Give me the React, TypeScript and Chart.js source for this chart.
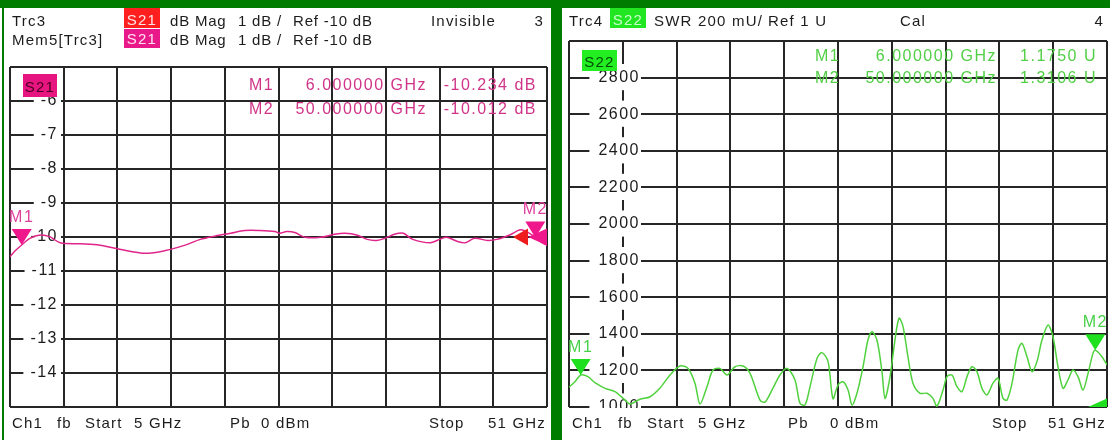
import React, { useEffect, useRef } from 'react';
import { Chart, registerables } from 'chart.js';

Chart.register(...registerables);

const FONT_FAMILY = '"Liberation Sans", Arial, Helvetica, sans-serif';

// ---------- shared frequency axis ----------
const X_START_GHZ = 5;
const X_STOP_GHZ = 51;
const X_GRID_LINES = 11;

// ---------- left diagram: Mem5[Trc3] S21, dB Mag ----------
const S21_FREQ_GHZ = [5.0, 5.4, 6.0, 6.7, 7.6, 8.4, 9.3, 11.0, 12.7, 14.4, 16.6, 18.3, 20.0, 21.3, 22.6, 23.9, 25.1, 26.4, 27.7, 28.1, 28.7, 29.4, 30.3, 31.6, 32.8, 33.7, 34.7, 35.6, 36.4, 37.1, 38.0, 38.7, 39.5, 41.0, 41.8, 42.4, 43.4, 44.0, 44.8, 45.9, 46.7, 47.8, 48.7, 49.3, 50.0, 50.5, 51.0];
const S21_DB = [-10.58, -10.42, -10.234, -10.04, -9.94, -9.99, -10.17, -10.2, -10.24, -10.36, -10.48, -10.4, -10.24, -10.07, -9.97, -9.89, -9.81, -9.81, -9.84, -9.89, -9.84, -9.87, -10.01, -10.01, -9.92, -9.89, -9.94, -10.07, -10.1, -10.04, -9.91, -9.89, -10.07, -10.17, -10.07, -10.01, -10.14, -10.17, -10.04, -10.1, -10.07, -9.94, -9.79, -9.85, -10.012, -10.15, -10.25];
const S21_Y_MIN = -15;
const S21_Y_MAX = -5;
const S21_Y_STEP = 1;
const S21_Y_TICK_LABELS = [-14, -13, -12, -11, -10, -9, -8, -7, -6];
const S21_REF_DB = -10;
const S21_MARKER_NAMES = ['M1', 'M2'];
const S21_MARKER_FREQ_GHZ = [6, 50];
const S21_MARKER_DB = [-10.234, -10.012];
const S21_MARKER_FREQ_TEXT = ['6.000000 GHz', '50.000000 GHz'];
const S21_MARKER_VALUE_TEXT = ['-10.234 dB', '-10.012 dB'];

// ---------- right diagram: Trc4 S22, SWR (mU) ----------
const S22_FREQ_GHZ = [5.0, 5.51, 6.0, 6.62, 7.22, 8.08, 8.93, 9.79, 10.22, 11.07, 11.93, 12.78, 13.64, 14.49, 15.18, 15.77, 16.2, 16.8, 17.31, 17.91, 18.51, 19.19, 19.88, 20.48, 21.33, 21.76, 22.36, 23.04, 23.64, 24.32, 24.75, 25.18, 25.61, 26.21, 26.63, 27.15, 27.57, 28.0, 28.43, 28.86, 29.2, 29.62, 30.14, 30.56, 30.91, 31.33, 31.76, 32.02, 32.45, 32.87, 33.22, 33.56, 33.98, 34.41, 35.01, 35.61, 36.12, 36.46, 36.98, 37.32, 37.75, 38.17, 38.6, 39.03, 39.46, 39.88, 40.31, 40.74, 41.25, 41.68, 42.11, 42.45, 42.88, 43.39, 43.73, 44.16, 44.59, 45.01, 45.44, 45.96, 46.38, 46.81, 47.24, 47.66, 48.09, 48.52, 48.95, 49.38, 49.8, 50.0, 50.57, 51.0];
const S22_SWR_MU = [1108, 1138, 1175, 1166, 1133, 1102, 1084, 1038, 1016, 1042, 1056, 1104, 1175, 1224, 1211, 1130, 1016, 1111, 1202, 1211, 1175, 1220, 1224, 1184, 1038, 1027, 1093, 1175, 1211, 1148, 1020, 1011, 1111, 1266, 1297, 1248, 1045, 1120, 1138, 1093, 1011, 1075, 1220, 1366, 1411, 1366, 1193, 1047, 1166, 1366, 1485, 1439, 1275, 1130, 1075, 1075, 1047, 1005, 1093, 1166, 1175, 1111, 1084, 1166, 1220, 1193, 1102, 1066, 1130, 1157, 1047, 1038, 1130, 1311, 1348, 1275, 1193, 1248, 1366, 1448, 1384, 1220, 1102, 1148, 1202, 1166, 1093, 1184, 1293, 1311, 1275, 1230];
const S22_Y_MIN = 1000;
const S22_Y_MAX = 3000;
const S22_Y_STEP = 200;
const S22_Y_TICK_LABELS = [1000, 1200, 1400, 1600, 1800, 2000, 2200, 2400, 2600, 2800];
const S22_REF_MU = 1000;
const S22_MARKER_NAMES = ['M1', 'M2'];
const S22_MARKER_FREQ_GHZ = [6, 50];
const S22_MARKER_MU = [1175, 1310.6];
const S22_MARKER_FREQ_TEXT = ['6.000000 GHz', '50.000000 GHz'];
const S22_MARKER_VALUE_TEXT = ['1.1750 U', '1.3106 U'];

// ---------- styles ----------
const FRAME_GREEN = '#007d00';
const GRID_COLOR = '#262626';
const TEXT_COLOR = '#1c1c1c';
const TICK_FONT_SIZE = 16;
const TICK_LS = '1.5px';

function drawText(
  c: CanvasRenderingContext2D,
  s: string,
  x: number,
  y: number,
  color: string,
  align: CanvasTextAlign = 'left',
  size = 15,
  ls = '1.2px'
) {
  c.save();
  c.font = `${size}px ${FONT_FAMILY}`;
  (c as any).letterSpacing = ls;
  c.fillStyle = color;
  c.textAlign = align;
  c.textBaseline = 'alphabetic';
  c.fillText(s, x, y);
  c.restore();
}

function box(c: CanvasRenderingContext2D, x: number, y: number, w: number, h: number, color: string) {
  c.fillStyle = color;
  c.fillRect(x, y, w, h);
}

function downTriangle(c: CanvasRenderingContext2D, x: number, y: number, w: number, h: number, color: string) {
  c.beginPath();
  c.moveTo(x, y);
  c.lineTo(x - w / 2, y - h);
  c.lineTo(x + w / 2, y - h);
  c.closePath();
  c.fillStyle = color;
  c.fill();
}

function leftTriangle(c: CanvasRenderingContext2D, tipX: number, y: number, w: number, h: number, color: string) {
  c.beginPath();
  c.moveTo(tipX, y);
  c.lineTo(tipX + w, y - h / 2);
  c.lineTo(tipX + w, y + h / 2);
  c.closePath();
  c.fillStyle = color;
  c.fill();
}

function widestLabel(labels: number[]) {
  const cv = document.createElement('canvas');
  const c = cv.getContext('2d') as CanvasRenderingContext2D;
  c.font = `${TICK_FONT_SIZE}px ${FONT_FAMILY}`;
  (c as any).letterSpacing = TICK_LS;
  return Math.max(...labels.map((v) => c.measureText(String(v)).width));
}

type Panel = {
  ox: number;
  oy: number;
  w: number;
  h: number;
  grid: { l: number; t: number; r: number; b: number };
  freq: number[];
  vals: number[];
  yMin: number;
  yMax: number;
  yStep: number;
  yTickLabels: number[];
  labelRight: number;
  backdropPad: { left: number; right: number; top: number; bottom: number };
  traceColor: string;
  markerColor: string;
  markerLabelColor: string;
  markerNames: string[];
  markerFreq: number[];
  markerVals: number[];
  refArrows: { value: number; color: string; offset: number; width: number }[];
  drawStatic: (c: CanvasRenderingContext2D) => void;
};

function makeChart(canvas: HTMLCanvasElement, p: Panel) {
  const panelPlugin = {
    id: 'panelDecor',
    beforeUpdate(chart: any) {
      chart.ctx.letterSpacing = TICK_LS;
    },
    beforeDraw(chart: any) {
      const c = chart.ctx as CanvasRenderingContext2D;
      c.save();
      c.fillStyle = '#ffffff';
      c.fillRect(0, 0, chart.width, chart.height);
      c.restore();
      (c as any).letterSpacing = TICK_LS;
    },
    afterDatasetsDraw(chart: any) {
      const c = chart.ctx as CanvasRenderingContext2D;
      const xs = chart.scales.x;
      const ys = chart.scales.y;
      const a = chart.chartArea;
      c.save();
      c.beginPath();
      c.rect(a.left, a.top, a.right - a.left, a.bottom - a.top);
      c.clip();
      p.refArrows.forEach((r) => {
        const y = ys.getPixelForValue(r.value);
        leftTriangle(c, a.right - r.offset, y, r.width, 17, r.color);
      });
      p.markerNames.forEach((n, i) => {
        const x = xs.getPixelForValue(p.markerFreq[i]);
        const y = ys.getPixelForValue(p.markerVals[i]);
        downTriangle(c, x, y, 20, 16, p.markerColor);
        drawText(c, n, x, y - 23, p.markerLabelColor, 'center', 16, '1.5px');
      });
      c.restore();
    },
    afterDraw(chart: any) {
      const c = chart.ctx as CanvasRenderingContext2D;
      c.save();
      c.translate(-p.ox, -p.oy);
      c.fillStyle = '#ffffff';
      c.fillRect(p.ox, p.grid.b + 1, p.w, p.oy + p.h - p.grid.b - 1);
      p.drawStatic(c);
      c.restore();
    },
  };

  const gridOpts = { color: GRID_COLOR, lineWidth: 2, drawTicks: false };
  const widest = widestLabel(p.yTickLabels);

  return new Chart(canvas, {
    type: 'line',
    data: {
      datasets: [
        {
          data: p.freq.map((f, i) => ({ x: f, y: p.vals[i] })),
          borderColor: p.traceColor,
          borderWidth: 1.5,
          pointRadius: 0,
          tension: 0.3,
          fill: false,
          xAxisID: 'x',
          yAxisID: 'y',
        },
      ],
    },
    options: {
      animation: false,
      responsive: false,
      devicePixelRatio: 1,
      events: [],
      layout: {
        padding: {
          left: p.grid.l - p.ox,
          top: p.grid.t - p.oy,
          right: p.ox + p.w - p.grid.r,
          bottom: p.oy + p.h - p.grid.b,
        },
      },
      plugins: {
        legend: { display: false },
        tooltip: { enabled: false },
        title: { display: false },
      },
      scales: {
        x: {
          type: 'linear',
          min: X_START_GHZ,
          max: X_STOP_GHZ,
          ticks: { display: false, count: X_GRID_LINES },
          grid: gridOpts,
          border: { display: false },
        },
        y: {
          type: 'linear',
          position: 'left',
          min: p.yMin,
          max: p.yMax,
          ticks: { display: false, stepSize: p.yStep },
          grid: gridOpts,
          border: { display: false },
        },
        yl: {
          type: 'linear',
          position: 'left',
          min: p.yMin,
          max: p.yMax,
          grid: { display: false, drawTicks: false },
          border: { display: false },
          afterBuildTicks: (s: any) => {
            s.ticks = p.yTickLabels.map((v) => ({ value: v }));
          },
          afterFit: (s: any) => {
            s.width = 0;
            s.paddingTop = 0;
            s.paddingBottom = 0;
          },
          ticks: {
            autoSkip: false,
            mirror: true,
            crossAlign: 'far',
            padding: p.labelRight - widest,
            color: TEXT_COLOR,
            font: { family: FONT_FAMILY, size: TICK_FONT_SIZE },
            showLabelBackdrop: true,
            backdropColor: '#ffffff',
            backdropPadding: p.backdropPad,
            callback: (v: any) => String(v),
          },
        },
      } as any,
    },
    plugins: [panelPlugin as any],
  });
}

function drawFooter(c: CanvasRenderingContext2D, items: [string, number, CanvasTextAlign][]) {
  items.forEach(([s, x, al]) => drawText(c, s, x, 428, TEXT_COLOR, al));
}

const LEFT_PANEL: Panel = {
  ox: 4,
  oy: 8,
  w: 547,
  h: 432,
  grid: { l: 10, t: 67, r: 547, b: 407 },
  freq: S21_FREQ_GHZ,
  vals: S21_DB,
  yMin: S21_Y_MIN,
  yMax: S21_Y_MAX,
  yStep: S21_Y_STEP,
  yTickLabels: S21_Y_TICK_LABELS,
  labelRight: 48,
  backdropPad: { left: 7, right: 3, top: 3, bottom: 2 },
  traceColor: '#e0258a',
  markerColor: '#f0168c',
  markerLabelColor: '#e0409c',
  markerNames: S21_MARKER_NAMES,
  markerFreq: S21_MARKER_FREQ_GHZ,
  markerVals: S21_MARKER_DB,
  refArrows: [
    { value: S21_REF_DB, color: '#f0168c', offset: 19, width: 19 },
    { value: S21_REF_DB, color: '#ee1c1c', offset: 34, width: 15 },
  ],
  drawStatic: (c) => {
    drawText(c, 'Trc3', 12, 26, TEXT_COLOR);
    box(c, 124, 8, 36, 20, '#ff1f1f');
    drawText(c, 'S21', 157, 25, '#ffe4e4', 'right');
    drawText(c, 'dB Mag', 170, 26, TEXT_COLOR, 'left', 15, '0.8px');
    drawText(c, '1 dB /', 238, 26, TEXT_COLOR, 'left', 15, '0.8px');
    drawText(c, 'Ref -10 dB', 293, 26, TEXT_COLOR, 'left', 15, '0.8px');
    drawText(c, 'Invisible', 431, 26, TEXT_COLOR);
    drawText(c, '3', 544, 26, TEXT_COLOR, 'right');
    drawText(c, 'Mem5[Trc3]', 12, 45, TEXT_COLOR);
    box(c, 124, 29, 36, 19, '#ea198a');
    drawText(c, 'S21', 157, 44, '#ffe0f0', 'right');
    drawText(c, 'dB Mag', 170, 45, TEXT_COLOR, 'left', 15, '0.8px');
    drawText(c, '1 dB /', 238, 45, TEXT_COLOR, 'left', 15, '0.8px');
    drawText(c, 'Ref -10 dB', 293, 45, TEXT_COLOR, 'left', 15, '0.8px');
    box(c, 23, 74, 34, 23, '#e6157f');
    drawText(c, 'S21', 40, 92, '#4a0022', 'center');
    const base = [90, 114];
    S21_MARKER_NAMES.forEach((n, i) => {
      drawText(c, n, 249, base[i], '#d03488', 'left', 16, '1.5px');
      drawText(c, S21_MARKER_FREQ_TEXT[i], 427, base[i], '#d03488', 'right', 16, '1.5px');
      drawText(c, S21_MARKER_VALUE_TEXT[i], 537, base[i], '#d03488', 'right', 16, '1.5px');
    });
    drawFooter(c, [
      ['Ch1', 12, 'left'],
      ['fb', 57, 'left'],
      ['Start', 85, 'left'],
      ['5 GHz', 134, 'left'],
      ['Pb', 230, 'left'],
      ['0 dBm', 261, 'left'],
      ['Stop', 429, 'left'],
      ['51 GHz', 546, 'right'],
    ]);
  },
};

const RIGHT_PANEL: Panel = {
  ox: 562,
  oy: 8,
  w: 548,
  h: 432,
  grid: { l: 569, t: 41, r: 1107, b: 407 },
  freq: S22_FREQ_GHZ,
  vals: S22_SWR_MU,
  yMin: S22_Y_MIN,
  yMax: S22_Y_MAX,
  yStep: S22_Y_STEP,
  yTickLabels: S22_Y_TICK_LABELS,
  labelRight: 71,
  backdropPad: { left: 9, right: 1, top: 4, bottom: 3 },
  traceColor: '#50d23e',
  markerColor: '#1ee01e',
  markerLabelColor: '#48d048',
  markerNames: S22_MARKER_NAMES,
  markerFreq: S22_MARKER_FREQ_GHZ,
  markerVals: S22_MARKER_MU,
  refArrows: [{ value: S22_REF_MU, color: '#1ee01e', offset: 19, width: 19 }],
  drawStatic: (c) => {
    drawText(c, 'Trc4', 569, 26, TEXT_COLOR);
    box(c, 610, 8, 36, 20, '#22e622');
    drawText(c, 'S22', 643, 25, '#c8ffc8', 'right');
    drawText(c, 'SWR', 654, 26, TEXT_COLOR);
    drawText(c, '200 mU/', 698, 26, TEXT_COLOR);
    drawText(c, 'Ref 1 U', 768, 26, TEXT_COLOR);
    drawText(c, 'Cal', 900, 26, TEXT_COLOR);
    drawText(c, '4', 1104, 26, TEXT_COLOR, 'right');
    box(c, 582, 50, 35, 21, '#22ee22');
    drawText(c, 'S22', 599.5, 67, '#004d00', 'center');
    const base = [61, 83];
    S22_MARKER_NAMES.forEach((n, i) => {
      drawText(c, n, 815, base[i], '#52cf46', 'left', 16, '1.5px');
      drawText(c, S22_MARKER_FREQ_TEXT[i], 997, base[i], '#52cf46', 'right', 16, '1.5px');
      drawText(c, S22_MARKER_VALUE_TEXT[i], 1097, base[i], '#52cf46', 'right', 16, '1.5px');
    });
    drawFooter(c, [
      ['Ch1', 572, 'left'],
      ['fb', 618, 'left'],
      ['Start', 647, 'left'],
      ['5 GHz', 698, 'left'],
      ['Pb', 788, 'left'],
      ['0 dBm', 830, 'left'],
      ['Stop', 992, 'left'],
      ['51 GHz', 1106, 'right'],
    ]);
  },
};

function PanelCanvas({ panel }: { panel: Panel }) {
  const ref = useRef<HTMLCanvasElement | null>(null);
  useEffect(() => {
    if (!ref.current) return;
    const chart = makeChart(ref.current, panel);
    return () => chart.destroy();
  }, [panel]);
  return (
    <canvas
      ref={ref}
      width={panel.w}
      height={panel.h}
      style={{
        position: 'absolute',
        left: panel.ox,
        top: panel.oy,
        width: panel.w,
        height: panel.h,
        display: 'block',
      }}
    />
  );
}

export default function App() {
  return (
    <div
      style={{
        position: 'absolute',
        left: 0,
        top: 0,
        width: 1110,
        height: 440,
        overflow: 'hidden',
        background: '#ffffff',
      }}
    >
      <div style={{ position: 'absolute', left: 0, top: 0, width: 1110, height: 8, background: FRAME_GREEN }} />
      <div style={{ position: 'absolute', left: 2, top: 0, width: 2, height: 440, background: FRAME_GREEN }} />
      <div style={{ position: 'absolute', left: 551, top: 0, width: 11, height: 440, background: FRAME_GREEN }} />
      <PanelCanvas panel={LEFT_PANEL} />
      <PanelCanvas panel={RIGHT_PANEL} />
    </div>
  );
}
